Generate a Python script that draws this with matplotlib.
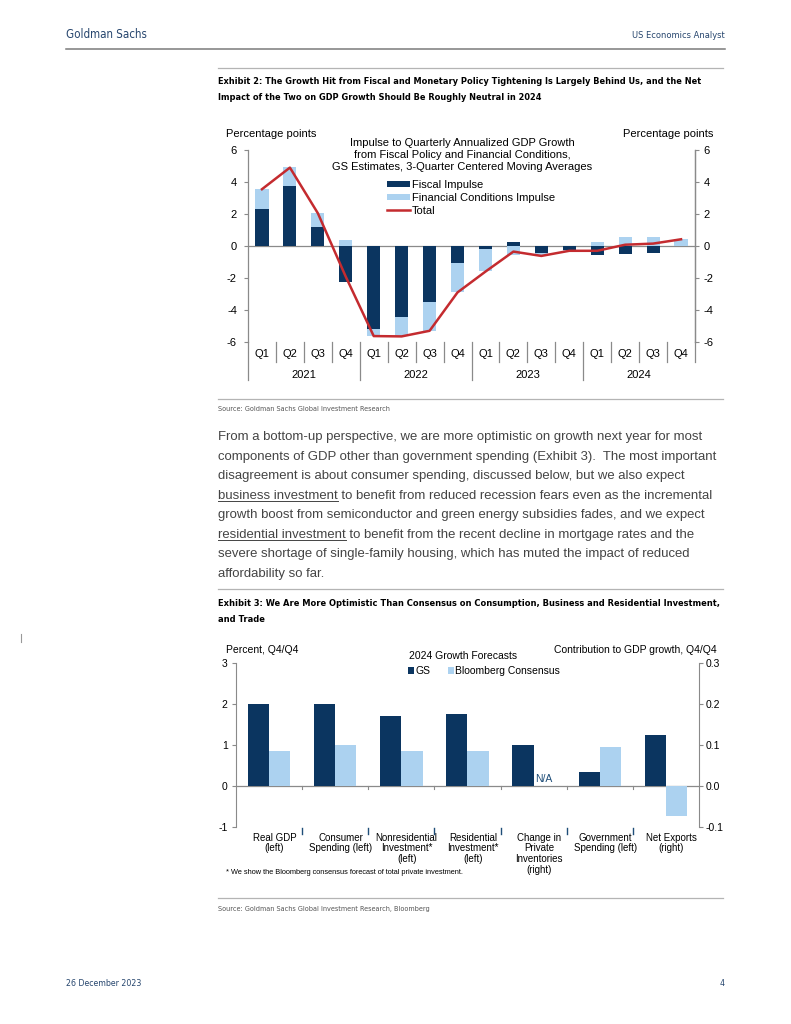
import numpy as np
import matplotlib
matplotlib.use("Agg")
import matplotlib.pyplot as plt
from matplotlib import font_manager
from matplotlib.lines import Line2D

# ---- data: exhibit 2 (impulse to GDP growth, pp) ----
quarters = ["Q1", "Q2", "Q3", "Q4"] * 4
years = ["2021", "2022", "2023", "2024"]
fiscal = [2.33, 3.74, 1.19, -2.27, -5.16, -4.43, -3.53, -1.06,
          -0.21, 0.25, -0.42, -0.28, -0.54, -0.48, -0.44, 0.0]
fin_cond = [1.25, 1.19, 0.89, 0.35, -0.48, -1.20, -1.77, -1.83,
            -1.37, -0.58, -0.18, -0.02, 0.25, 0.56, 0.56, 0.42]
total = [3.55, 4.90, 2.05, -1.92, -5.63, -5.65, -5.30, -2.90,
         -1.60, -0.35, -0.62, -0.30, -0.30, 0.08, 0.15, 0.42]

# ---- data: exhibit 3 (2024 growth forecasts) ----
components = ["Real GDP\n(left)", "Consumer\nSpending (left)",
              "Nonresidential\nInvestment*\n(left)", "Residential\nInvestment*\n(left)",
              "Change in\nPrivate\nInventories\n(right)", "Government\nSpending (left)",
              "Net Exports\n(right)"]
on_right = [False, False, False, False, True, False, True]
gs_fcst = [2.0, 2.0, 1.70, 1.75, 0.10, 0.33, 0.125]
bbg_fcst = [0.85, 1.0, 0.85, 0.85, np.nan, 0.96, -0.073]

body = [
    "From a bottom-up perspective, we are more optimistic on growth next year for most",
    "components of GDP other than government spending (Exhibit 3).  The most important",
    "disagreement is about consumer spending, discussed below, but we also expect",
    "business investment to benefit from reduced recession fears even as the incremental",
    "growth boost from semiconductor and green energy subsidies fades, and we expect",
    "residential investment to benefit from the recent decline in mortgage rates and the",
    "severe shortage of single-family housing, which has muted the impact of reduced",
    "affordability so far.",
]
underlined = {3: "business investment", 5: "residential investment"}

NAVY = "#0b3560"
LIGHT = "#acd2f0"
RED = "#c42b2f"
GRID = "#8a8a8a"
HEAD = "#27466e"
TXT = "#444444"

# condensed face for headings if one is installed
NARROW, STRETCH = "Liberation Sans", "normal"
for f in font_manager.fontManager.ttflist:
    nm = f.name
    if "Mono" in nm or "Serif" in nm:
        continue
    if "Narrow" in nm or "Condensed" in nm or f.stretch in ("condensed", "semi-condensed"):
        NARROW, STRETCH = nm, f.stretch if isinstance(f.stretch, str) else "condensed"
        break

plt.rcParams["font.family"] = ["Liberation Sans", "DejaVu Sans"]
plt.rcParams["axes.unicode_minus"] = False

W, H = 791, 1024
fig = plt.figure(figsize=(W / 100, H / 100), dpi=100)


def fx(x):
    return x / W


def fy(y):
    return 1 - y / H


def fit(t, width_px):
    r = fig.canvas.get_renderer()
    w = t.get_window_extent(r).width
    t.set_fontsize(t.get_fontsize() * width_px / w)
    return t.get_fontsize()


def hline(x0, x1, y, color="#b4b4b4", lw=0.9):
    fig.add_artist(Line2D([fx(x0), fx(x1)], [fy(y), fy(y)], color=color, lw=lw,
                          transform=fig.transFigure))


def head(x, y, s, **kw):
    return fig.text(fx(x), fy(y), s, family=NARROW, fontstretch=STRETCH, va="center", **kw)


# ---- page furniture ----
t = head(66, 35, "Goldman Sachs", color=HEAD, fontsize=10)
fit(t, 81)
t = head(725, 35, "US Economics Analyst", color=HEAD, ha="right", fontsize=8)
fit(t, 92)
hline(66, 725, 49, color="#7a7a7a", lw=1.1)
fig.add_artist(Line2D([fx(21), fx(21)], [fy(634), fy(642)], color="#999999", lw=0.8,
                      transform=fig.transFigure))

hline(218, 723, 68)
t = head(218, 81, "Exhibit 2: The Growth Hit from Fiscal and Monetary Policy Tightening "
         "Is Largely Behind Us, and the Net", weight="bold", fontsize=8)
s = fit(t, 484)
head(218, 97, "Impact of the Two on GDP Growth Should Be Roughly Neutral in 2024",
     weight="bold", fontsize=s)

hline(218, 723, 399)
t = head(218, 409, "Source: Goldman Sachs Global Investment Research", color="#555555", fontsize=6)
fit(t, 171)

# body paragraph
r = fig.canvas.get_renderer()
t0 = fig.text(fx(218), fy(440), body[0], color=TXT, va="baseline", fontsize=9)
bs = fit(t0, 485)
step = (577 - 440) / (len(body) - 1)
for i, line in enumerate(body[1:], start=1):
    fig.text(fx(218), fy(440 + step * i), line, color=TXT, va="baseline", fontsize=bs)
for i, word in underlined.items():
    tmp = fig.text(0, 0, word, fontsize=bs)
    w = tmp.get_window_extent(r).width
    tmp.remove()
    hline(218, 218 + w, 440 + step * i + 2.5, color=TXT, lw=0.7)

hline(218, 723, 589)
t = head(218, 603, "Exhibit 3: We Are More Optimistic Than Consensus on Consumption, "
         "Business and Residential Investment,", weight="bold", fontsize=8)
s = fit(t, 505)
head(218, 619, "and Trade", weight="bold", fontsize=s)

hline(218, 723, 898)
t = head(218, 909, "Source: Goldman Sachs Global Investment Research, Bloomberg",
         color="#555555", fontsize=6)
fit(t, 210)

t = head(66, 983, "26 December 2023", color=HEAD, fontsize=7)
fit(t, 76)
head(725, 983, "4", color=HEAD, ha="right", fontsize=t.get_fontsize())

# ---- exhibit 2 chart ----
ax = fig.add_axes([fx(248), fy(342), (695 - 248) / W, (342 - 150) / H])
x = np.arange(len(quarters))
fiscal_a = np.array(fiscal)
fin_a = np.array(fin_cond)
fin_bottom = np.where(np.sign(fiscal_a) == np.sign(fin_a), fiscal_a, 0)
h1 = ax.bar(x, fiscal_a, width=0.47, color=NAVY, label="Fiscal Impulse", zorder=2)
h2 = ax.bar(x, fin_a, width=0.47, bottom=fin_bottom, color=LIGHT,
            label="Financial Conditions Impulse", zorder=2)
h3, = ax.plot(x, total, color=RED, lw=1.8, label="Total", zorder=3)
ax.axhline(0, color=GRID, lw=0.9, zorder=1)
ax.set_xlim(-0.5, len(quarters) - 0.5)
ax.set_ylim(-6, 6)
ax.set_yticks(np.arange(-6, 7, 2))
ax.set_xticks([])
for sp in ["top", "bottom"]:
    ax.spines[sp].set_visible(False)
for sp in ["left", "right"]:
    ax.spines[sp].set_color(GRID)
    ax.spines[sp].set_linewidth(0.9)
ax.tick_params(axis="y", direction="out", length=3, color=GRID, labelsize=8, pad=5)
ax.patch.set_alpha(0)

ax2 = ax.twinx()
ax2.set_ylim(-6, 6)
ax2.set_yticks(np.arange(-6, 7, 2))
for sp in ["top", "bottom", "left"]:
    ax2.spines[sp].set_visible(False)
ax2.spines["right"].set_color(GRID)
ax2.spines["right"].set_linewidth(0.9)
ax2.tick_params(axis="y", direction="out", length=3, color=GRID, labelsize=8, pad=3)

xt = ax.get_xaxis_transform()
for i, q in enumerate(quarters):
    ax.text(i, -0.0625, q, transform=xt, ha="center", va="center", fontsize=8)
for j, yr in enumerate(years):
    ax.text(4 * j + 1.5, -0.172, yr, transform=xt, ha="center", va="center", fontsize=8)
for k in range(len(quarters) + 1):
    low = -0.198 if k % 4 == 0 and k < len(quarters) else -0.104
    ax.plot([k - 0.5, k - 0.5], [0, low], transform=xt, color=GRID, lw=0.9, clip_on=False)

fig.text(fx(226), fy(134), "Percentage points", fontsize=8, va="center")
fig.text(fx(713), fy(134), "Percentage points", fontsize=8, va="center", ha="right")
fig.text(fx(462), fy(155), "Impulse to Quarterly Annualized GDP Growth\n"
         "from Fiscal Policy and Financial Conditions,\n"
         "GS Estimates, 3-Quarter Centered Moving Averages",
         fontsize=8, ha="center", va="center", linespacing=1.2)
ax.legend([h1, h2, h3], ["Fiscal Impulse", "Financial Conditions Impulse", "Total"],
          loc="upper left", bbox_to_anchor=(fx(387), fy(180)), bbox_transform=fig.transFigure,
          frameon=False, fontsize=8, handlelength=2.1, handleheight=0.55, handletextpad=0.15,
          labelspacing=0.25, borderpad=0, borderaxespad=0)

# ---- exhibit 3 chart ----
bx = fig.add_axes([fx(236), fy(827), (699 - 236) / W, (827 - 663) / H])
bx2 = bx.twinx()
n = len(components)
bw = 0.32
for i in range(n):
    a = bx2 if on_right[i] else bx
    a.bar(i - bw / 2, gs_fcst[i], width=bw, color=NAVY, zorder=2)
    if np.isnan(bbg_fcst[i]):
        a.text(i + bw / 2, 0.004, "N/A", color="#1f4e79", ha="center", va="bottom", fontsize=7.5)
    else:
        a.bar(i + bw / 2, bbg_fcst[i], width=bw, color=LIGHT, zorder=2)
bx.axhline(0, color=GRID, lw=0.9, zorder=1)
bx.set_xlim(-0.5, n - 0.5)
bx.set_ylim(-1, 3)
bx.set_yticks([-1, 0, 1, 2, 3])
bx2.set_ylim(-0.1, 0.3)
bx2.set_yticks([-0.1, 0.0, 0.1, 0.2, 0.3])
bx2.set_yticklabels(["-0.1", "0.0", "0.1", "0.2", "0.3"])
bx.set_xticks(np.arange(n) + 0.08)
bx.set_xticklabels(components, fontsize=7, linespacing=1.1, va="top")
bx.tick_params(axis="x", length=0, pad=4)
bx.tick_params(axis="y", direction="out", length=3, color=GRID, labelsize=7.5, pad=3)
bx2.tick_params(axis="y", direction="out", length=3, color=GRID, labelsize=7.5, pad=2)
for a in (bx, bx2):
    for sp in ["top", "bottom"]:
        a.spines[sp].set_visible(False)
bx.spines["right"].set_visible(False)
bx2.spines["left"].set_visible(False)
bx.spines["left"].set_color(GRID)
bx2.spines["right"].set_color(GRID)
bxt = bx.get_xaxis_transform()
for k in range(1, n):
    bx.plot([k - 0.5, k - 0.5], [0, -0.07], color=GRID, lw=0.8, zorder=1)
    bx.plot([k - 0.5, k - 0.5], [-0.005, -0.04], transform=bxt, color="#1f4e79", lw=1,
            clip_on=False)

fig.text(fx(226), fy(650), "Percent, Q4/Q4", fontsize=7.5, va="center")
fig.text(fx(717), fy(650), "Contribution to GDP growth, Q4/Q4", fontsize=7.5, va="center",
         ha="right")
fig.text(fx(463), fy(656), "2024 Growth Forecasts", fontsize=7.5, va="center", ha="center")
g1 = bx.bar([0], [0], color=NAVY)
g2 = bx.bar([0], [0], color=LIGHT)
bx.legend([g1, g2], ["GS", "Bloomberg Consensus"], loc="upper left",
          bbox_to_anchor=(fx(408), fy(666)), bbox_transform=fig.transFigure,
          ncol=2, frameon=False, fontsize=7.5, handlelength=0.6, handleheight=0.6,
          handletextpad=0.1, columnspacing=1.7, borderpad=0, borderaxespad=0)
t = fig.text(fx(226), fy(873), "* We show the Bloomberg consensus forecast of total private investment.",
             fontsize=5.5, va="center")
fit(t, 240)

fig.savefig("out.png", dpi=100)
